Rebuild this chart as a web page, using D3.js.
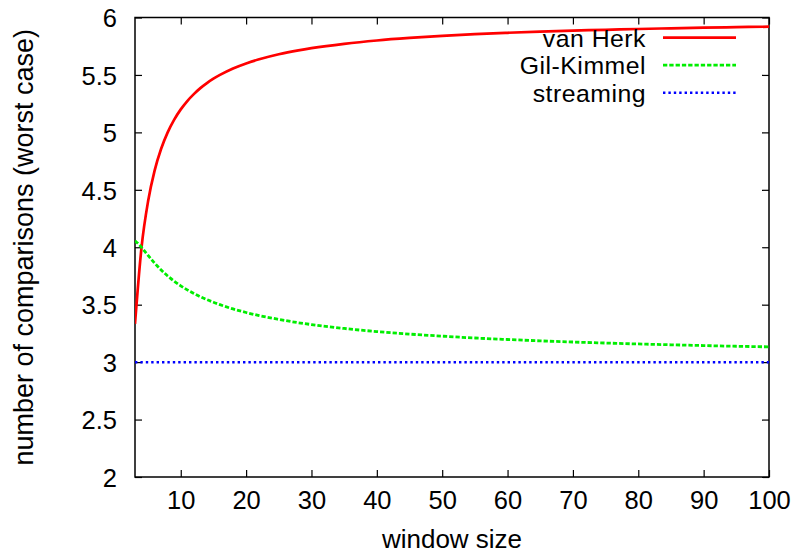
<!DOCTYPE html>
<html>
<head>
<meta charset="utf-8">
<script src="https://cdn.jsdelivr.net/npm/d3@7"></script>
<style>
  html, body { margin: 0; padding: 0; background: #fff; }
  svg { display: block; }
  text { font-family: "Liberation Sans", Arial, Helvetica, sans-serif; fill: #000; }
</style>
</head>
<body>
<svg id="chart" width="798" height="555"></svg>
<script>
// ---- data ----
const windowSizes = [3,4,5,6,7,8,9,10,11,12,13,14,15,16,18,20,22,25,28,30,35,40,45,50,55,60,65,70,75,80,85,90,95,100];
const vanHerk = [3.333,4.000,4.400,4.667,4.857,5.000,5.111,5.200,5.273,5.333,5.385,5.429,5.467,5.500,5.556,5.600,5.636,5.680,5.714,5.733,5.771,5.800,5.822,5.840,5.855,5.867,5.877,5.886,5.893,5.900,5.906,5.911,5.916,5.920];
const gilKimmel = [4.057,4.000,3.929,3.862,3.802,3.750,3.704,3.664,3.629,3.598,3.569,3.544,3.521,3.500,3.463,3.432,3.405,3.372,3.343,3.327,3.293,3.266,3.244,3.226,3.210,3.197,3.185,3.175,3.166,3.158,3.151,3.144,3.138,3.133];
const streaming = [3,3,3,3,3,3,3,3,3,3,3,3,3,3,3,3,3,3,3,3,3,3,3,3,3,3,3,3,3,3,3,3,3,3];
const seriesNames = ["van Herk", "Gil-Kimmel", "streaming"];
const xTicks = [10,20,30,40,50,60,70,80,90,100];
const yTicks = [2,2.5,3,3.5,4,4.5,5,5.5,6];
const xTitle = "window size";
const yTitle = "number of comparisons (worst case)";

// ---- layout ----
const svg = d3.select("#chart");
const L = 135, R = 769, T = 17.5, B = 477;
const x = d3.scaleLinear().domain([3, 100]).range([L, R]);
const y = d3.scaleLinear().domain([2, 6]).range([B, T]);
const fsTick = 25.5, fsLeg = 24.8, fsTitle = 26;

const g = svg.append("g");

// ticks (inside, mirrored)
const tickLen = 7;
const xAxisB = d3.axisBottom(x).tickValues(xTicks).tickSizeInner(-tickLen).tickSizeOuter(0).tickPadding(14).tickFormat(d3.format("d"));
const xAxisT = d3.axisTop(x).tickValues(xTicks).tickSizeInner(-tickLen).tickSizeOuter(0).tickFormat("");
const yAxisL = d3.axisLeft(y).tickValues(yTicks).tickSizeInner(-tickLen).tickSizeOuter(0).tickPadding(18).tickFormat(d => d3.format("")(d));
const yAxisR = d3.axisRight(y).tickValues(yTicks).tickSizeInner(-tickLen).tickSizeOuter(0).tickFormat("");

function styleAxis(sel) {
  sel.select(".domain").remove();
  sel.selectAll(".tick line").attr("stroke", "#000").attr("stroke-width", 1.2);
  sel.selectAll(".tick text").attr("font-size", fsTick).attr("font-family", "Liberation Sans, Arial, sans-serif").attr("fill", "#000");
}
g.append("g").attr("transform", `translate(0,${B})`).call(xAxisB).call(styleAxis);
g.append("g").attr("transform", `translate(0,${T})`).call(xAxisT).call(styleAxis);
g.append("g").attr("transform", `translate(${L},0)`).call(yAxisL).call(styleAxis);
g.append("g").attr("transform", `translate(${R},0)`).call(yAxisR).call(styleAxis);

svg.selectAll("g.tick text").each(function() {
  const t = d3.select(this);
  if (t.attr("x") !== null && +t.attr("x") < 0) t.attr("dy", "0.36em");
  else t.attr("dy", "0.71em");
});

// frame
g.append("rect").attr("x", L).attr("y", T).attr("width", R - L).attr("height", B - T)
  .attr("fill", "none").attr("stroke", "#000").attr("stroke-width", 1.5);

// lines
const styles = [
  { color: "#ff0000", width: 2.7, dash: null },
  { color: "#00ee00", width: 2.8, dash: "4.3,2" },
  { color: "#0000ff", width: 2.5, dash: "2.4,3" }
];
const allSeries = [vanHerk, gilKimmel, streaming];
const line = d3.line().x(d => x(d[0])).y(d => y(d[1])).curve(d3.curveMonotoneX);

svg.append("defs").append("clipPath").attr("id", "clip")
  .append("rect").attr("x", L).attr("y", T - 2).attr("width", R - L + 1).attr("height", B - T + 4);

allSeries.forEach((vals, i) => {
  const pts = windowSizes.map((w, k) => [w, vals[k]]);
  svg.append("path").datum(pts)
    .attr("d", line)
    .attr("fill", "none")
    .attr("stroke", styles[i].color)
    .attr("stroke-width", styles[i].width)
    .attr("stroke-dasharray", styles[i].dash)
    .attr("clip-path", "url(#clip)");
});

// legend
const legY0 = 37.6, legDy = 27.6;
seriesNames.forEach((name, i) => {
  const ly = legY0 + i * legDy;
  svg.append("text").attr("x", 646).attr("y", ly).attr("dy", "0.36em")
    .attr("text-anchor", "end").attr("font-size", fsLeg).attr("letter-spacing", 0.5).text(name);
  svg.append("line").attr("x1", 663).attr("x2", 736).attr("y1", ly).attr("y2", ly)
    .attr("stroke", styles[i].color).attr("stroke-width", styles[i].width)
    .attr("stroke-dasharray", styles[i].dash);
});

// axis titles
svg.append("text").attr("x", (L + R) / 2).attr("y", 548).attr("text-anchor", "middle")
  .attr("font-size", fsTitle).text(xTitle);
svg.append("text").attr("transform", `translate(33,${(T + B) / 2}) rotate(-90)`)
  .attr("text-anchor", "middle").attr("font-size", 27).text(yTitle);
</script>
</body>
</html>
